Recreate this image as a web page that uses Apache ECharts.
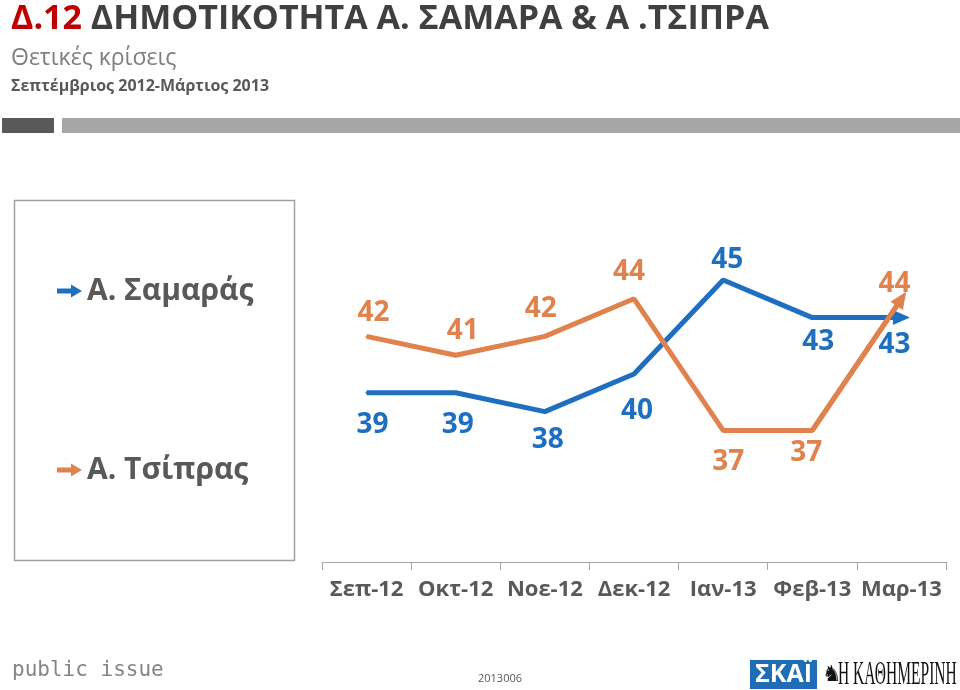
<!DOCTYPE html>
<html>
<head>
<meta charset="utf-8">
<script src="https://cdn.jsdelivr.net/npm/echarts@6/dist/echarts.min.js"></script>
<style>
html,body{margin:0;padding:0;background:#fff;}
#main{width:960px;height:690px;}
</style>
</head>
<body>
<div id="main"></div>
<script>
// ---- data ----
var categories = ['Σεπ-12', 'Οκτ-12', 'Νοε-12', 'Δεκ-12', 'Ιαν-13', 'Φεβ-13', 'Μαρ-13'];
var samarasName = 'Α. Σαμαράς';
var tsiprasName = 'Α. Τσίπρας';
var samarasValues = [39, 39, 38, 40, 45, 43, 43];
var tsiprasValues = [42, 41, 42, 44, 37, 37, 44];

// ---- label placement (style, not data) ----
var samarasLabelOffsets = [[6, 32], [2, 32], [3, 28], [3, 37], [4, -20], [6, 24], [-7, 27]];
var tsiprasLabelOffsets = [[7, -23], [7, -24], [-4, -27], [-5, -27], [5, 32], [-6, 23], [-7, -15]];

var BLUE = '#1F6FC0';
var ORANGE = '#E0824D';
var FONT = '"Open Sans", "Noto Sans", sans-serif';

function buildData(values, offsets) {
  return values.map(function (v, i) {
    return { value: v, label: { offset: offsets[i] } };
  });
}

function arrowMark(values, color) {
  var n = values.length;
  return {
    silent: true,
    symbol: ['none', 'triangle'],
    symbolSize: [15, 17],
    label: { show: false },
    lineStyle: { color: color, width: 5, type: 'solid' },
    emphasis: { disabled: true },
    data: [[
      { coord: [categories[n - 2], values[n - 2]] },
      { coord: [categories[n - 1], values[n - 1]] }
    ]]
  };
}

function lineSeries(name, values, offsets, color) {
  return {
    name: name,
    type: 'line',
    data: buildData(values, offsets),
    symbol: 'circle',
    symbolSize: 2,
    showSymbol: true,
    itemStyle: { color: color },
    lineStyle: { color: color, width: 5 },
    label: {
      show: true,
      position: 'inside',
      align: 'center',
      verticalAlign: 'middle',
      color: color,
      fontFamily: FONT,
      fontWeight: 'bold',
      fontSize: 28
    },
    markLine: arrowMark(values, color),
    animation: false,
    z: 3
  };
}

var chart = echarts.init(document.getElementById('main'), null, { renderer: 'canvas' });

var option = {
  backgroundColor: '#ffffff',
  animation: false,
  title: [
    {
      text: '{r|Δ.12} {g|ΔΗΜΟΤΙΚΟΤΗΤΑ Α. ΣΑΜΑΡΑ & Α .ΤΣΙΠΡΑ}',
      left: 11, top: -1, padding: 0,
      textStyle: {
        fontFamily: FONT, fontSize: 34, fontWeight: 'bold', lineHeight: 40,
        rich: {
          r: { color: '#C00000', fontFamily: FONT, fontSize: 34, fontWeight: 'bold', lineHeight: 40 },
          g: { color: '#404040', fontFamily: FONT, fontSize: 34, fontWeight: 'bold', lineHeight: 40 }
        }
      }
    },
    {
      text: 'Θετικές κρίσεις',
      left: 11, top: 43, padding: 0,
      textStyle: { fontFamily: FONT, fontSize: 23, fontWeight: 'normal', color: '#7F7F7F', lineHeight: 30 }
    },
    {
      text: 'Σεπτέμβριος 2012-Μάρτιος 2013',
      left: 11, top: 75, padding: 0,
      textStyle: { fontFamily: FONT, fontSize: 16, fontWeight: 'bold', color: '#595959', lineHeight: 22 }
    }
  ],
  legend: {
    orient: 'vertical',
    left: 57, top: 273, padding: 0,
    itemGap: 143,
    itemWidth: 25, itemHeight: 13,
    icon: 'path://M0,4 L14,4 L14,0 L25,6.5 L14,13 L14,9 L0,9 Z',
    selectedMode: false,
    data: [samarasName, tsiprasName],
    textStyle: { fontFamily: FONT, fontSize: 30, fontWeight: 'bold', color: '#595959', lineHeight: 36 }
  },
  grid: { left: 322, right: 14, top: 186, bottom: 128, containLabel: false },
  xAxis: {
    type: 'category',
    data: categories,
    boundaryGap: true,
    axisLine: { show: true, lineStyle: { color: '#A6A6A6', width: 1 } },
    axisTick: { show: true, length: 8, inside: false, lineStyle: { color: '#A6A6A6' } },
    axisLabel: { margin: 17, fontFamily: FONT, fontSize: 22, fontWeight: 'bold', color: '#595959', interval: 0 },
    splitLine: { show: false }
  },
  yAxis: {
    type: 'value',
    min: 30, max: 50,
    show: false,
    splitLine: { show: false }
  },
  series: [
    lineSeries(samarasName, samarasValues, samarasLabelOffsets, BLUE),
    lineSeries(tsiprasName, tsiprasValues, tsiprasLabelOffsets, ORANGE)
  ],
  graphic: [
    { type: 'rect', shape: { x: 2, y: 118, width: 52, height: 15 }, style: { fill: '#595959' }, silent: true },
    { type: 'rect', shape: { x: 62, y: 118, width: 898, height: 15 }, style: { fill: '#A6A6A6' }, silent: true },
    { type: 'rect', shape: { x: 14.5, y: 200.5, width: 280, height: 360 }, style: { fill: 'none', stroke: '#A0A0A0', lineWidth: 1.5 }, silent: true, z: -1 },
    { type: 'text', x: 12, y: 671, style: { text: 'public issue', fontFamily: '"DejaVu Sans Mono", monospace', fontSize: 21, fill: '#858585', verticalAlign: 'middle' }, silent: true },
    { type: 'text', x: 478, y: 679, style: { text: '2013006', fontFamily: FONT, fontSize: 11, fill: '#595959', verticalAlign: 'middle' }, silent: true },
    { type: 'rect', shape: { x: 750, y: 660, width: 67, height: 29 }, style: { fill: '#1F6DB5' }, silent: true },
    { type: 'text', x: 783.5, y: 675, style: { text: 'ΣΚΑΪ', fontFamily: FONT, fontSize: 25, fontWeight: 'bold', fill: '#ffffff', align: 'center', verticalAlign: 'middle' }, silent: true },
    { type: 'text', x: 822, y: 675, style: { text: '♞', fontFamily: '"DejaVu Sans", sans-serif', fontSize: 22, fill: '#111111', verticalAlign: 'middle' }, silent: true },
    { type: 'text', x: 838, y: 675, scaleX: 0.47, style: { text: 'Η ΚΑΘΗΜΕΡΙΝΗ', fontFamily: '"Liberation Serif", serif', fontSize: 33, fill: '#111111', verticalAlign: 'middle' }, silent: true }
  ]
};

chart.setOption(option);
</script>
</body>
</html>
